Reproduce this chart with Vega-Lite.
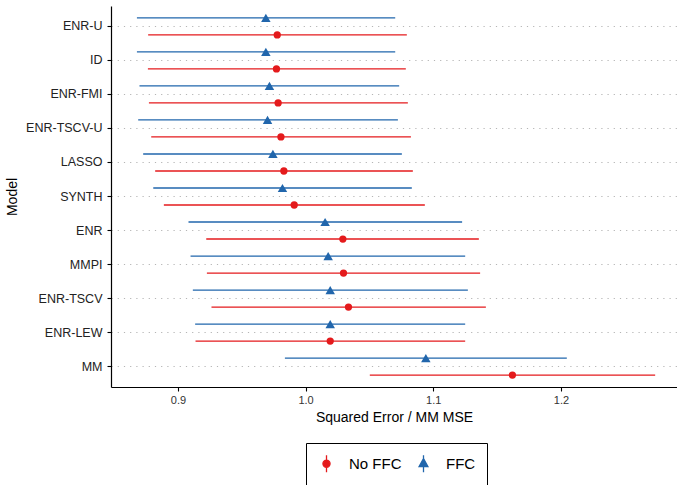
{
  "$schema": "https://vega.github.io/schema/vega-lite/v6.json",
  "width": 566,
  "height": 381,
  "autosize": {"type": "none"},
  "padding": {"left": 111, "top": 6, "right": 0, "bottom": 98},
  "config": {"view": {"stroke": null}, "font": "Liberation Sans"},
  "data": {
    "values": [
      {"Model": "ENR-U", "Type": "FFC", "est": 0.9689, "lo": 0.8679, "hi": 1.0702},
      {"Model": "ENR-U", "Type": "No FFC", "est": 0.9778, "lo": 0.8767, "hi": 1.0793},
      {"Model": "ID", "Type": "FFC", "est": 0.9689, "lo": 0.8679, "hi": 1.0702},
      {"Model": "ID", "Type": "No FFC", "est": 0.9772, "lo": 0.8765, "hi": 1.0785},
      {"Model": "ENR-FMI", "Type": "FFC", "est": 0.9717, "lo": 0.8699, "hi": 1.0733},
      {"Model": "ENR-FMI", "Type": "No FFC", "est": 0.9785, "lo": 0.8773, "hi": 1.0801},
      {"Model": "ENR-TSCV-U", "Type": "FFC", "est": 0.9702, "lo": 0.8689, "hi": 1.0723},
      {"Model": "ENR-TSCV-U", "Type": "No FFC", "est": 0.9807, "lo": 0.8791, "hi": 1.0825},
      {"Model": "LASSO", "Type": "FFC", "est": 0.9744, "lo": 0.8728, "hi": 1.0754},
      {"Model": "LASSO", "Type": "No FFC", "est": 0.9830, "lo": 0.8822, "hi": 1.0840},
      {"Model": "SYNTH", "Type": "FFC", "est": 0.9819, "lo": 0.8807, "hi": 1.0832},
      {"Model": "SYNTH", "Type": "No FFC", "est": 0.9911, "lo": 0.8890, "hi": 1.0934},
      {"Model": "ENR", "Type": "FFC", "est": 1.0153, "lo": 0.9083, "hi": 1.1226},
      {"Model": "ENR", "Type": "No FFC", "est": 1.0292, "lo": 0.9222, "hi": 1.1357},
      {"Model": "MMPI", "Type": "FFC", "est": 1.0177, "lo": 0.9099, "hi": 1.1250},
      {"Model": "MMPI", "Type": "No FFC", "est": 1.0297, "lo": 0.9227, "hi": 1.1367},
      {"Model": "ENR-TSCV", "Type": "FFC", "est": 1.0193, "lo": 0.9117, "hi": 1.1271},
      {"Model": "ENR-TSCV", "Type": "No FFC", "est": 1.0336, "lo": 0.9263, "hi": 1.1412},
      {"Model": "ENR-LEW", "Type": "FFC", "est": 1.0193, "lo": 0.9135, "hi": 1.1250},
      {"Model": "ENR-LEW", "Type": "No FFC", "est": 1.0193, "lo": 0.9138, "hi": 1.1250},
      {"Model": "MM", "Type": "FFC", "est": 1.0942, "lo": 0.9838, "hi": 1.2046},
      {"Model": "MM", "Type": "No FFC", "est": 1.1620, "lo": 1.0503, "hi": 1.2738}
    ]
  },
  "encoding": {
    "y": {
      "field": "Model",
      "type": "nominal",
      "sort": ["ENR-U", "ID", "ENR-FMI", "ENR-TSCV-U", "LASSO", "SYNTH", "ENR", "MMPI", "ENR-TSCV", "ENR-LEW", "MM"],
      "scale": {"paddingInner": 0, "paddingOuter": 0.1},
      "axis": {
        "title": "Model",
        "grid": true,
        "gridDash": [1.2, 5],
        "gridColor": "#b5b5b5",
        "gridWidth": 1.2,
        "bandPosition": 0.5,
        "domainColor": "black",
        "domainWidth": 1.2,
        "tickColor": "black",
        "tickSize": 4,
        "tickWidth": 1.1,
        "labelPadding": 5,
        "labelFontSize": 12.5,
        "labelColor": "#222222",
        "titleFontSize": 14,
        "titleFontWeight": "normal",
        "titleColor": "black",
        "titlePadding": 6
      }
    },
    "yOffset": {
      "field": "Type",
      "type": "nominal",
      "scale": {"domain": ["FFC", "No FFC"], "paddingInner": 0, "paddingOuter": 0}
    },
    "color": {
      "field": "Type",
      "type": "nominal",
      "scale": {"domain": ["No FFC", "FFC"], "range": ["#E41A1C", "#2166AC"]},
      "legend": {
        "orient": "none",
        "legendX": 195,
        "legendY": 437,
        "direction": "horizontal",
        "title": null,
        "strokeColor": "black",
        "padding": 11,
        "labelFontSize": 15,
        "labelColor": "black",
        "labelFont": "Liberation Sans",
        "labelOffset": 13,
        "columnPadding": 12,
        "symbolSize": 289,
        "symbolStrokeWidth": 1.3,
        "symbolOpacity": 1,
        "encode": {
          "symbols": {
            "update": {
              "shape": {"signal": "datum.value === 'No FFC' ? 'M0,-1L0,1M0.42,0A0.42,0.42,0,1,1,-0.42,0A0.42,0.42,0,1,1,0.42,0Z' : 'M0,-1L0,1M0,-0.6L0.52,0.35L-0.52,0.35Z'"},
              "fill": {"signal": "datum.value === 'No FFC' ? '#E41A1C' : '#2166AC'"},
              "stroke": {"signal": "datum.value === 'No FFC' ? '#E41A1C' : '#2166AC'"},
              "strokeWidth": {"value": 1.3},
              "opacity": {"value": 1}
            }
          }
        }
      }
    }
  },
  "layer": [
    {
      "mark": {"type": "rule", "strokeWidth": 1.3},
      "encoding": {
        "x": {
          "field": "lo",
          "type": "quantitative",
          "scale": {"domain": [0.8476, 1.2909], "nice": false, "zero": false},
          "axis": {
            "title": "Squared Error / MM MSE",
            "values": [0.9, 1.0, 1.1, 1.2],
            "format": ".1f",
            "grid": false,
            "domainColor": "black",
            "domainWidth": 1.2,
            "tickColor": "black",
            "tickSize": 4,
            "tickWidth": 1.1,
            "labelFontSize": 11,
            "labelColor": "#333333",
            "labelPadding": 3,
            "titleFontSize": 14,
            "titleFontWeight": "normal",
            "titleColor": "black",
            "titlePadding": 5
          }
        },
        "x2": {"field": "hi"}
      }
    },
    {
      "mark": {"type": "point", "filled": true, "opacity": 1},
      "encoding": {
        "x": {"field": "est", "type": "quantitative"},
        "shape": {
          "condition": {"test": "datum.Type === 'FFC'", "value": "triangle-up"},
          "value": "circle"
        },
        "size": {
          "condition": {"test": "datum.Type === 'FFC'", "value": 90},
          "value": 53
        }
      }
    }
  ]
}
